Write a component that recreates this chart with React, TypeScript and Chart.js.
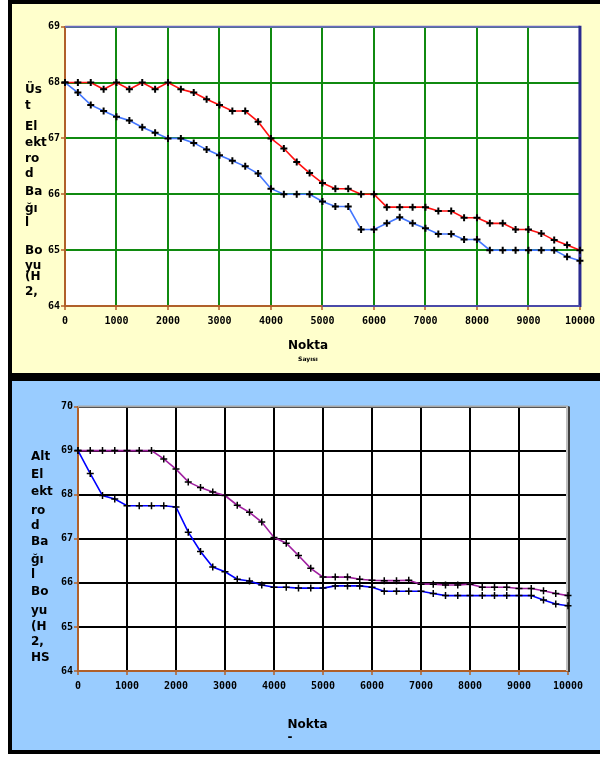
import React, { useEffect, useRef } from "react";
import { Chart, registerables } from "chart.js";
Chart.register(...registerables);

// ---- data ----
const pointsX = [0, 250, 500, 750, 1000, 1250, 1500, 1750, 2000, 2250, 2500, 2750, 3000, 3250, 3500, 3750, 4000, 4250, 4500, 4750, 5000, 5250, 5500, 5750, 6000, 6250, 6500, 6750, 7000, 7250, 7500, 7750, 8000, 8250, 8500, 8750, 9000, 9250, 9500, 9750, 10000];

const topRed = [68.0, 68.0, 68.0, 67.88, 68.0, 67.88, 68.0, 67.88, 68.0, 67.88, 67.82, 67.7, 67.6, 67.49, 67.49, 67.3, 67.0, 66.82, 66.58, 66.38, 66.2, 66.1, 66.1, 66.0, 66.0, 65.77, 65.77, 65.77, 65.77, 65.7, 65.7, 65.58, 65.58, 65.48, 65.48, 65.37, 65.37, 65.3, 65.18, 65.09, 65.0];
const topBlue = [68.0, 67.82, 67.6, 67.49, 67.39, 67.32, 67.2, 67.1, 67.0, 67.0, 66.92, 66.8, 66.7, 66.6, 66.5, 66.37, 66.1, 66.0, 66.0, 66.0, 65.87, 65.78, 65.78, 65.37, 65.37, 65.48, 65.59, 65.48, 65.39, 65.29, 65.29, 65.19, 65.19, 65.0, 65.0, 65.0, 65.0, 65.0, 65.0, 64.88, 64.81];

const bottomPurple = [69, 69, 69, 69, 69, 69, 69, 68.81, 68.58, 68.29, 68.16, 68.06, 67.98, 67.76, 67.6, 67.38, 67.03, 66.9, 66.62, 66.33, 66.13, 66.13, 66.13, 66.08, 66.06, 66.05, 66.05, 66.06, 65.97, 65.97, 65.95, 65.95, 65.97, 65.9, 65.9, 65.9, 65.87, 65.87, 65.82, 65.76, 65.71];
const bottomBlue = [69, 68.48, 67.98, 67.9, 67.75, 67.75, 67.75, 67.75, 67.72, 67.15, 66.71, 66.36, 66.25, 66.08, 66.04, 65.95, 65.9, 65.9, 65.88, 65.88, 65.88, 65.93, 65.93, 65.93, 65.9, 65.81, 65.81, 65.81, 65.81, 65.76, 65.71, 65.71, 65.71, 65.71, 65.71, 65.71, 65.71, 65.71, 65.61, 65.52, 65.48];

const xTicks = [0, 1000, 2000, 3000, 4000, 5000, 6000, 7000, 8000, 9000, 10000];
const topYTicks = [64, 65, 66, 67, 68, 69];
const bottomYTicks = [64, 65, 66, 67, 68, 69, 70];

const topTitleLines = ["Üs", "t", "El", "ekt", "ro", "d", "Ba", "ğı", "l", "Bo", "yu", "(H", "2,"];
const bottomTitleLines = ["Alt", "El", "ekt", "ro", "d", "Ba", "ğı", "l", "Bo", "yu", "(H", "2,", "HS"];
const xTitle = "Nokta";
const topXSub = "Sayısı";
const bottomXSub = "-";

type Panel = {
  yTicks: number[];
  series: { values: number[]; color: string }[];
  gridColor: string;
  axisColor: string;
  padTop: number;
  padRight: number;
  xAxisH: number;
  yAxisW: number;
  titleLines: string[];
  titleX: number;
  titleYs: number[];
  xTitlePos: [number, number];
  sub: string;
  subPos: [number, number];
  subFont: string;
  markerWidth: number;
  variant: "top" | "bottom";
};

const W = 588;
const H = 369;

function ChartPanel({ p }: { p: Panel }) {
  const ref = useRef<HTMLCanvasElement | null>(null);
  useEffect(() => {
    if (!ref.current) return;
    const deco = {
      id: "deco",
      beforeDraw(chart: any) {
        const { ctx, chartArea: a } = chart;
        ctx.save();
        ctx.fillStyle = "#ffffff";
        ctx.fillRect(a.left, a.top, a.right - a.left, a.bottom - a.top);
        ctx.restore();
      },
      beforeDatasetsDraw(chart: any) {
        const { ctx, chartArea: a } = chart;
        ctx.save();
        if (p.variant === "top") {
          ctx.strokeStyle = "#6a6ac0";
          ctx.lineWidth = 2;
          ctx.beginPath();
          ctx.moveTo(a.left, a.top);
          ctx.lineTo(a.right, a.top);
          ctx.stroke();
          ctx.strokeStyle = "#2a2a90";
          ctx.lineWidth = 3;
          ctx.beginPath();
          ctx.moveTo(a.right, a.top - 1);
          ctx.lineTo(a.right, a.bottom + 1);
          ctx.stroke();
          const xs = chart.scales.x;
          ctx.strokeStyle = "#4a4aa8";
          ctx.lineWidth = 2;
          ctx.beginPath();
          ctx.moveTo(xs.getPixelForValue(5000), a.bottom);
          ctx.lineTo(a.right, a.bottom);
          ctx.stroke();
        } else {
          ctx.strokeStyle = "#a8a8a8";
          ctx.lineWidth = 2;
          ctx.beginPath();
          ctx.moveTo(a.left, a.top);
          ctx.lineTo(a.right, a.top);
          ctx.stroke();
          ctx.strokeStyle = "#c0c0c0";
          ctx.lineWidth = 2;
          ctx.beginPath();
          ctx.moveTo(a.right - 1, a.top);
          ctx.lineTo(a.right - 1, a.bottom);
          ctx.stroke();
          ctx.strokeStyle = "#404040";
          ctx.beginPath();
          ctx.moveTo(a.right + 1, a.top);
          ctx.lineTo(a.right + 1, a.bottom + 1);
          ctx.stroke();
        }
        ctx.restore();
      },
      afterDraw(chart: any) {
        const { ctx } = chart;
        ctx.save();
        ctx.fillStyle = "#000";
        ctx.font = 'bold 12px "DejaVu Sans"';
        ctx.textAlign = "left";
        ctx.textBaseline = "middle";
        p.titleLines.forEach((t, i) => ctx.fillText(t, p.titleX, p.titleYs[i]));
        ctx.textAlign = "center";
        ctx.fillText(xTitle, p.xTitlePos[0], p.xTitlePos[1]);
        ctx.font = p.subFont;
        ctx.fillText(p.sub, p.subPos[0], p.subPos[1]);
        ctx.restore();
      },
    };
    const tickFont = { family: "DejaVu Sans Mono", size: 10, weight: "bold" as const };
    const chart = new Chart(ref.current, {
      type: "line",
      data: {
        datasets: p.series.map((s) => ({
          data: pointsX.map((x, i) => ({ x, y: s.values[i] })),
          borderColor: s.color,
          borderWidth: 1.6,
          tension: 0,
          fill: false,
          pointStyle: "cross",
          pointRadius: 3.5,
          pointBorderColor: "#000",
          pointBackgroundColor: "#000",
          pointBorderWidth: p.markerWidth,
          clip: false,
        })),
      },
      options: {
        responsive: false,
        animation: false,
        layout: { padding: { top: p.padTop, right: p.padRight, left: 0, bottom: 0 } },
        plugins: { legend: { display: false }, tooltip: { enabled: false } },
        scales: {
          x: {
            type: "linear",
            min: xTicks[0],
            max: xTicks[xTicks.length - 1],
            afterBuildTicks: (s: any) => {
              s.ticks = xTicks.map((v) => ({ value: v }));
            },
            afterFit: (s: any) => {
              s.height = p.xAxisH;
            },
            grid: { color: p.gridColor, lineWidth: 2, tickColor: p.axisColor, tickLength: 4, tickWidth: 1.5 },
            border: { color: p.axisColor, width: 2 },
            ticks: {
              color: "#000",
              font: tickFont,
              padding: 5,
              maxRotation: 0,
              autoSkip: false,
              callback: (v: any) => String(v),
            },
          },
          y: {
            type: "linear",
            min: p.yTicks[0],
            max: p.yTicks[p.yTicks.length - 1],
            afterBuildTicks: (s: any) => {
              s.ticks = p.yTicks.map((v) => ({ value: v }));
            },
            afterFit: (s: any) => {
              s.width = p.yAxisW;
            },
            grid: { color: p.gridColor, lineWidth: 2, tickColor: p.axisColor, tickLength: 4, tickWidth: 1.5 },
            border: { color: p.axisColor, width: 2 },
            ticks: {
              color: "#000",
              font: tickFont,
              padding: 1,
              autoSkip: false,
              callback: (v: any) => String(v),
            },
          },
        },
      },
      plugins: [deco],
    } as any);
    return () => chart.destroy();
  }, [p]);
  return <canvas ref={ref} width={W} height={H} style={{ width: W, height: H, display: "block" }} />;
}

const topPanel: Panel = {
  yTicks: topYTicks,
  series: [
    { values: topBlue, color: "#4477ff" },
    { values: topRed, color: "#ff1010" },
  ],
  gridColor: "#108a10",
  axisColor: "#b0602a",
  padTop: 22.7,
  padRight: 19,
  xAxisH: 67,
  yAxisW: 53,
  titleLines: topTitleLines,
  titleX: 13,
  titleYs: [86, 102, 123, 139, 155, 170, 188, 205, 219, 247, 262, 273, 288],
  xTitlePos: [296, 342],
  sub: topXSub,
  subPos: [296, 355],
  subFont: 'bold 6px "DejaVu Sans"',
  markerWidth: 2,
  variant: "top",
};

const bottomPanel: Panel = {
  yTicks: bottomYTicks,
  series: [
    { values: bottomBlue, color: "#0000ff" },
    { values: bottomPurple, color: "#a020a0" },
  ],
  gridColor: "#000000",
  axisColor: "#b0602a",
  padTop: 25.5,
  padRight: 32,
  xAxisH: 79,
  yAxisW: 66,
  titleLines: bottomTitleLines,
  titleX: 19,
  titleYs: [76, 94, 111, 130, 145, 161, 179, 194, 211, 230, 246, 261, 277],
  xTitlePos: [295.5, 344],
  sub: bottomXSub,
  subPos: [278, 357],
  subFont: 'bold 12px "DejaVu Sans"',
  markerWidth: 1.5,
  variant: "bottom",
};

export default function App() {
  return (
    <div style={{ position: "absolute", left: 0, top: 0, width: 600, height: 758, background: "#fff" }}>
      <div style={{ position: "absolute", left: 8, top: 0, width: 592, height: 754, background: "#000" }} />
      <div style={{ position: "absolute", left: 12, top: 4, width: W, height: H, background: "#ffffcc" }}>
        <ChartPanel p={topPanel} />
      </div>
      <div style={{ position: "absolute", left: 12, top: 381, width: W, height: H, background: "#99ccff" }}>
        <ChartPanel p={bottomPanel} />
      </div>
    </div>
  );
}
